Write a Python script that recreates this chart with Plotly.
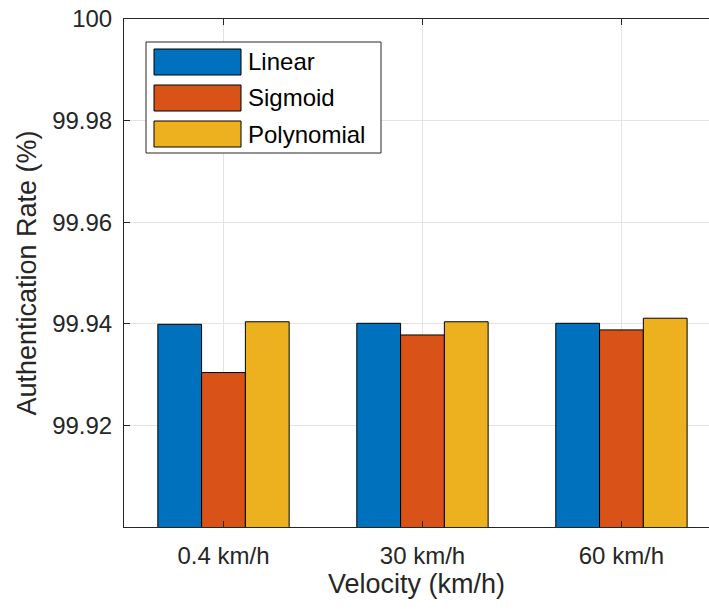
import plotly.graph_objects as go

# Velocity categories and authentication rates (%) per kernel
velocities = ["0.4 km/h", "30 km/h", "60 km/h"]
linear = [99.9399, 99.9401, 99.9401]
sigmoid = [99.9304, 99.9378, 99.9388]
polynomial = [99.9404, 99.9404, 99.9411]

series_names = ["Linear", "Sigmoid", "Polynomial"]
series_colors = ["#0072BD", "#D95319", "#EDB120"]

y_tickvals = [99.92, 99.94, 99.96, 99.98, 100]
y_ticktext = ["99.92", "99.94", "99.96", "99.98", "100"]

FONT = "Liberation Sans, Arial, Helvetica, sans-serif"
AXIS_COLOR = "#262626"
GRID_COLOR = "#e3e3e3"

# canvas geometry (pixels)
W, H = 709, 610
L, R, T, B = 124, 0, 19, 83
plot_w = W - L - R
plot_h = H - T - B

fig = go.Figure()
for name, vals, color in zip(series_names, [linear, sigmoid, polynomial], series_colors):
    fig.add_trace(go.Bar(
        x=velocities, y=vals, name=name,
        marker=dict(color=color, line=dict(color="#000000", width=1)),
        showlegend=False,
    ))


def px_x(p):
    return (p - L) / plot_w


def px_y(p):
    return (H - B - p) / plot_h


# boxed legend with wide swatches
shapes = [dict(type="rect", xref="paper", yref="paper",
               x0=px_x(146), x1=px_x(381), y0=px_y(153), y1=px_y(42),
               fillcolor="white", line=dict(color=AXIS_COLOR, width=1))]
annotations = []
for i, (name, color) in enumerate(zip(series_names, series_colors)):
    top = 49 + i * 36
    bot = top + 26
    shapes.append(dict(type="rect", xref="paper", yref="paper",
                       x0=px_x(154), x1=px_x(241), y0=px_y(bot), y1=px_y(top),
                       fillcolor=color, line=dict(color="#000000", width=1)))
    annotations.append(dict(xref="paper", yref="paper", x=px_x(246),
                            y=px_y((top + bot) / 2), text=name, showarrow=False,
                            xanchor="left", yanchor="middle",
                            font=dict(family=FONT, size=24, color="#000000")))

fig.update_layout(
    width=W, height=H,
    margin=dict(l=L, r=R, t=T, b=B, pad=0),
    paper_bgcolor="white", plot_bgcolor="white",
    barmode="group", bargap=0.34, bargroupgap=0,
    font=dict(family=FONT, color=AXIS_COLOR),
    shapes=shapes, annotations=annotations,
    xaxis=dict(
        range=[-0.5, 2.44], showline=True, linecolor=AXIS_COLOR, linewidth=1,
        mirror="ticks", ticks="inside", ticklen=6, tickcolor=AXIS_COLOR,
        showgrid=True, gridcolor=GRID_COLOR, gridwidth=1,
        tickfont=dict(size=24, color=AXIS_COLOR), ticklabelstandoff=7,
        title=dict(text="Velocity (km/h)", font=dict(size=27, color=AXIS_COLOR), standoff=3),
    ),
    yaxis=dict(
        range=[99.9, 100], showline=True, linecolor=AXIS_COLOR, linewidth=1,
        mirror=False, ticks="inside", ticklen=6, tickcolor=AXIS_COLOR,
        tickvals=y_tickvals, ticktext=y_ticktext,
        showgrid=True, gridcolor=GRID_COLOR, gridwidth=1, zeroline=False,
        tickfont=dict(size=24, color=AXIS_COLOR), ticklabelstandoff=6,
        title=dict(text="Authentication Rate (%)", font=dict(size=27, color=AXIS_COLOR), standoff=7),
    ),
)

fig.write_html("out.html")
